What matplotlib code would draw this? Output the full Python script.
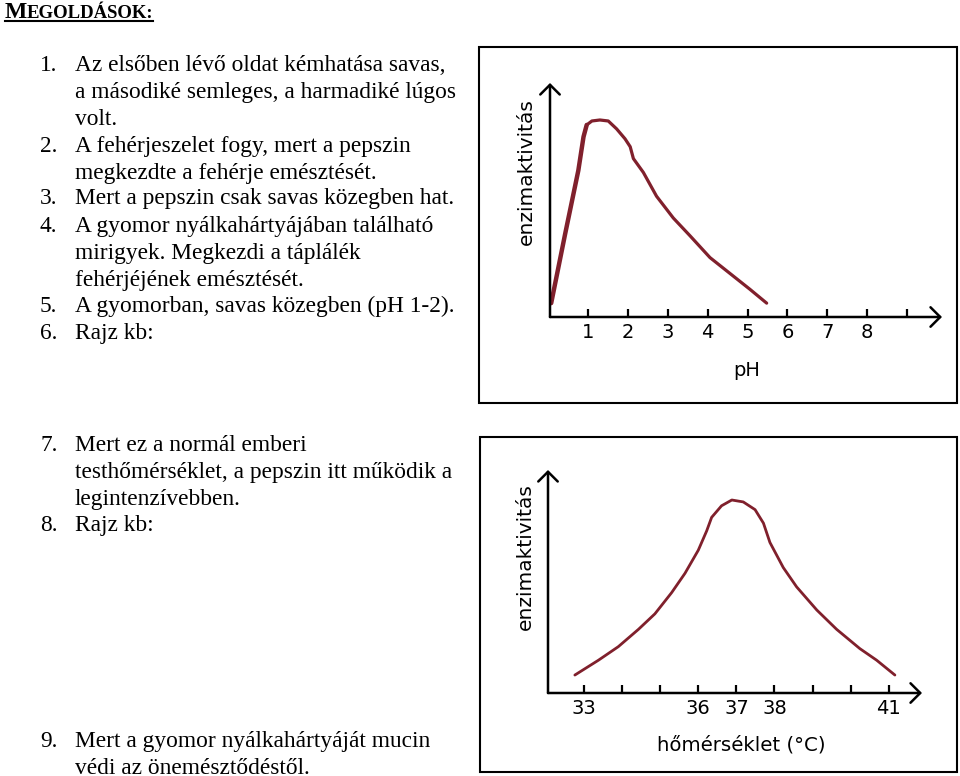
import matplotlib
matplotlib.use("Agg")
import matplotlib.pyplot as plt
from matplotlib.patches import Rectangle

W, H = 960, 776

# answer text (left column)
title_first = "M"
title_rest = "EGOLDÁSOK:"
answers = [
    ("1.", ["Az elsőben lévő oldat kémhatása savas,",
            "a másodiké semleges, a harmadiké lúgos",
            "volt."]),
    ("2.", ["A fehérjeszelet fogy, mert a pepszin",
            "megkezdte a fehérje emésztését."]),
    ("3.", ["Mert a pepszin csak savas közegben hat."]),
    ("4.", ["A gyomor nyálkahártyájában található",
            "mirigyek. Megkezdi a táplálék",
            "fehérjéjének emésztését."]),
    ("5.", ["A gyomorban, savas közegben (pH 1-2)."]),
    ("6.", ["Rajz kb:"]),
    ("7.", ["Mert ez a normál emberi",
            "testhőmérséklet, a pepszin itt működik a",
            "legintenzívebben."]),
    ("8.", ["Rajz kb:"]),
    ("9.", ["Mert a gyomor nyálkahártyáját mucin",
            "védi az önemésztődéstől."]),
]
# baseline of the first line of each answer (pixels from top)
answer_y = [71, 152, 204, 232, 312, 339, 451, 531, 747]
line_step = 23.5 + 3.3

# chart 1: enzyme activity vs pH (rising part drawn thicker in the original)
ph_rise = [0.08, 0.43, 0.76, 0.89, 0.97]
ph_rise_act = [0.07, 0.42, 0.74, 0.91, 0.97]
ph = [0.97, 1.10, 1.30, 1.51, 1.72, 1.93, 2.06, 2.14, 2.39, 2.72, 3.14,
      3.56, 4.06, 4.56, 5.06, 5.48]
ph_act = [0.97, 0.99, 0.995, 0.99, 0.95, 0.90, 0.86, 0.80, 0.73, 0.61, 0.50,
          0.41, 0.30, 0.22, 0.14, 0.07]
ph_ticks = [1, 2, 3, 4, 5, 6, 7, 8, 9]
ph_labels = ["1", "2", "3", "4", "5", "6", "7", "8", ""]

# chart 2: enzyme activity vs temperature
temp = [32.76, 33.38, 33.90, 34.43, 34.86, 35.30, 35.65, 36.0, 36.22, 36.35,
        36.61, 36.88, 37.18, 37.49, 37.71, 37.88, 38.23, 38.58, 39.11,
        39.63, 40.24, 40.68, 41.16]
temp_act = [0.093, 0.17, 0.24, 0.33, 0.41, 0.52, 0.62, 0.74, 0.84, 0.91,
            0.97, 1.0, 0.99, 0.95, 0.88, 0.78, 0.65, 0.55, 0.43,
            0.33, 0.23, 0.17, 0.093]
temp_ticks = [33, 34, 35, 36, 37, 38, 39, 40, 41]
temp_labels = ["33", "", "", "36", "37", "38", "", "", "41"]

serif = "Liberation Serif"
sans = "DejaVu Sans"
curve_color = "#80202c"

fig = plt.figure(figsize=(W / 100, H / 100), dpi=100)
fig.patch.set_facecolor("white")

# page layer in pixel coordinates
page = fig.add_axes([0, 0, 1, 1])
page.set_xlim(0, W)
page.set_ylim(H, 0)
page.axis("off")

page.text(5, 18, title_first, fontsize=17, fontweight="bold", family=serif,
          va="baseline")
page.text(27, 18, title_rest, fontsize=13.5, fontweight="bold", family=serif,
          va="baseline")
page.plot([5, 153], [21, 21], color="black", lw=1.5)

for (num, lines), y0 in zip(answers, answer_y):
    page.text(40, y0, num, fontsize=16.8, family=serif, va="baseline")
    for i, line in enumerate(lines):
        page.text(75, y0 + i * line_step, line, fontsize=16.8, family=serif,
                  va="baseline")

page.add_patch(Rectangle((479, 47), 478, 356, fill=False, ec="black", lw=1.5))
page.add_patch(Rectangle((480, 437), 477, 335, fill=False, ec="black", lw=1.5))


def px_axes(x0, y0, x1, y1):
    ax = fig.add_axes([x0 / W, 1 - y1 / H, (x1 - x0) / W, (y1 - y0) / H])
    ax.patch.set_alpha(0)
    for s in ax.spines.values():
        s.set_visible(False)
    arrow = dict(arrowstyle="->,head_length=0.7,head_width=0.7",
                 lw=1.8, color="black", shrinkA=0, shrinkB=0,
                 mutation_scale=10)
    ax.annotate("", xy=(1, 0), xytext=(0, 0), xycoords="axes fraction",
                arrowprops=arrow)
    ax.annotate("", xy=(0, 1), xytext=(0, 0), xycoords="axes fraction",
                arrowprops=arrow)
    ax.tick_params(axis="x", direction="in", length=6, width=1.6,
                   labelsize=14, pad=4)
    ax.set_yticks([])
    return ax


# pH chart
ax1 = px_axes(550, 83, 942, 317)
ax1.plot(ph_rise, ph_rise_act, color=curve_color, lw=3.2,
         solid_capstyle="round")
ax1.plot(ph, ph_act, color=curve_color, lw=2.3, solid_capstyle="round",
         solid_joinstyle="round")
ax1.set_xlim(0.05, 0.05 + 392 / 39.9)
ax1.set_ylim(0, 234 / 198)
ax1.set_xticks(ph_ticks)
ax1.set_xticklabels(ph_labels, family=sans)
ax1.set_ylabel("enzimaktivitás", fontsize=14.5, family=sans, va="center")
ax1.yaxis.set_label_coords((526 - 550) / 392, (317 - 172) / 234)
ax1.set_xlabel("pH", fontsize=14, family=sans, va="center")
ax1.xaxis.set_label_coords((747 - 550) / 392, (317 - 370) / 234)

# temperature chart
ax2 = px_axes(548, 470, 922, 693)
ax2.plot(temp, temp_act, color=curve_color, lw=2.0, solid_capstyle="round",
         solid_joinstyle="round")
ax2.set_xlim(33 - 36 / 38.1, 33 + 338 / 38.1)
ax2.set_ylim(0, 223 / 193)
ax2.set_xticks(temp_ticks)
ax2.set_xticklabels(temp_labels, family=sans)
ax2.set_ylabel("enzimaktivitás", fontsize=14.5, family=sans, va="center")
ax2.yaxis.set_label_coords((525 - 548) / 374, (693 - 557) / 223)
ax2.set_xlabel("hőmérséklet (°C)", fontsize=14.2, family=sans, va="center")
ax2.xaxis.set_label_coords((741 - 548) / 374, (693 - 745) / 223)

fig.savefig("out.png", dpi=100)
